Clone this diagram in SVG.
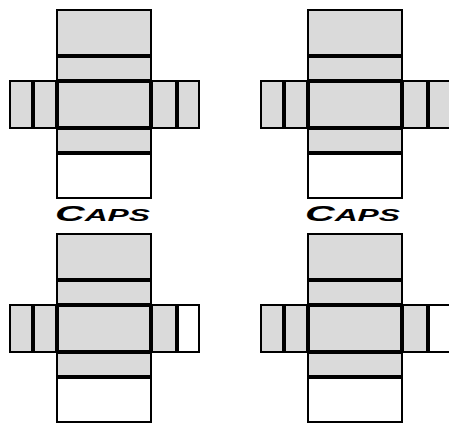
<svg xmlns="http://www.w3.org/2000/svg" width="449" height="433" viewBox="0 0 449 433">
<style>
.g{fill:#dadada;stroke:#000;stroke-width:2}
.w{fill:#fff;stroke:#000;stroke-width:2}
.t{stroke:#000;stroke-width:4;fill:none}
.lbl{font-family:"Liberation Sans",Arial,sans-serif;font-weight:bold;font-style:italic;fill:#000}
</style>
<rect width="449" height="433" fill="#fff"/>
<g id="fig1">
<rect class="g" x="57" y="10" width="94" height="46"/>
<rect class="g" x="57" y="56" width="94" height="25"/>
<rect class="g" x="57" y="81" width="94" height="47"/>
<rect class="g" x="57" y="128" width="94" height="25"/>
<rect class="w" x="57" y="153" width="94" height="45"/>
<rect class="g" x="10" y="81" width="23" height="47"/>
<rect class="g" x="33" y="81" width="24" height="47"/>
<rect class="g" x="151" y="81" width="26" height="47"/>
<rect class="g" x="177" y="81" width="22" height="47"/>
<path class="t" d="M57 56H151M57 81H151M57 128H151M57 153H151M57 81V128M151 81V128M33 81V128M177 81V128"/>
</g>
<g id="fig2" transform="translate(251,0)">
<rect class="g" x="57" y="10" width="94" height="46"/>
<rect class="g" x="57" y="56" width="94" height="25"/>
<rect class="g" x="57" y="81" width="94" height="47"/>
<rect class="g" x="57" y="128" width="94" height="25"/>
<rect class="w" x="57" y="153" width="94" height="45"/>
<rect class="g" x="10" y="81" width="23" height="47"/>
<rect class="g" x="33" y="81" width="24" height="47"/>
<rect class="g" x="151" y="81" width="26" height="47"/>
<rect class="g" x="177" y="81" width="22" height="47"/>
<path class="t" d="M57 56H151M57 81H151M57 128H151M57 153H151M57 81V128M151 81V128M33 81V128M177 81V128"/>
</g>
<g id="fig3" transform="translate(0,224)">
<rect class="g" x="57" y="10" width="94" height="46"/>
<rect class="g" x="57" y="56" width="94" height="25"/>
<rect class="g" x="57" y="81" width="94" height="47"/>
<rect class="g" x="57" y="128" width="94" height="25"/>
<rect class="w" x="57" y="153" width="94" height="45"/>
<rect class="g" x="10" y="81" width="23" height="47"/>
<rect class="g" x="33" y="81" width="24" height="47"/>
<rect class="g" x="151" y="81" width="26" height="47"/>
<rect class="w" x="177" y="81" width="22" height="47"/>
<path class="t" d="M57 56H151M57 81H151M57 128H151M57 153H151M57 81V128M151 81V128M33 81V128M177 81V128"/>
</g>
<g id="fig4" transform="translate(251,224)">
<rect class="g" x="57" y="10" width="94" height="46"/>
<rect class="g" x="57" y="56" width="94" height="25"/>
<rect class="g" x="57" y="81" width="94" height="47"/>
<rect class="g" x="57" y="128" width="94" height="25"/>
<rect class="w" x="57" y="153" width="94" height="45"/>
<rect class="g" x="10" y="81" width="23" height="47"/>
<rect class="g" x="33" y="81" width="24" height="47"/>
<rect class="g" x="151" y="81" width="26" height="47"/>
<rect class="w" x="177" y="81" width="22" height="47"/>
<path class="t" d="M57 56H151M57 81H151M57 128H151M57 153H151M57 81V128M151 81V128M33 81V128M177 81V128"/>
</g>
<g id="label1">
<text class="lbl" x="55" y="221" textLength="95" lengthAdjust="spacingAndGlyphs"><tspan font-size="22">C</tspan><tspan font-size="17">APS</tspan></text>
</g>
<g id="label2">
<text class="lbl" x="305" y="221" textLength="95" lengthAdjust="spacingAndGlyphs"><tspan font-size="22">C</tspan><tspan font-size="17">APS</tspan></text>
</g>
</svg>
